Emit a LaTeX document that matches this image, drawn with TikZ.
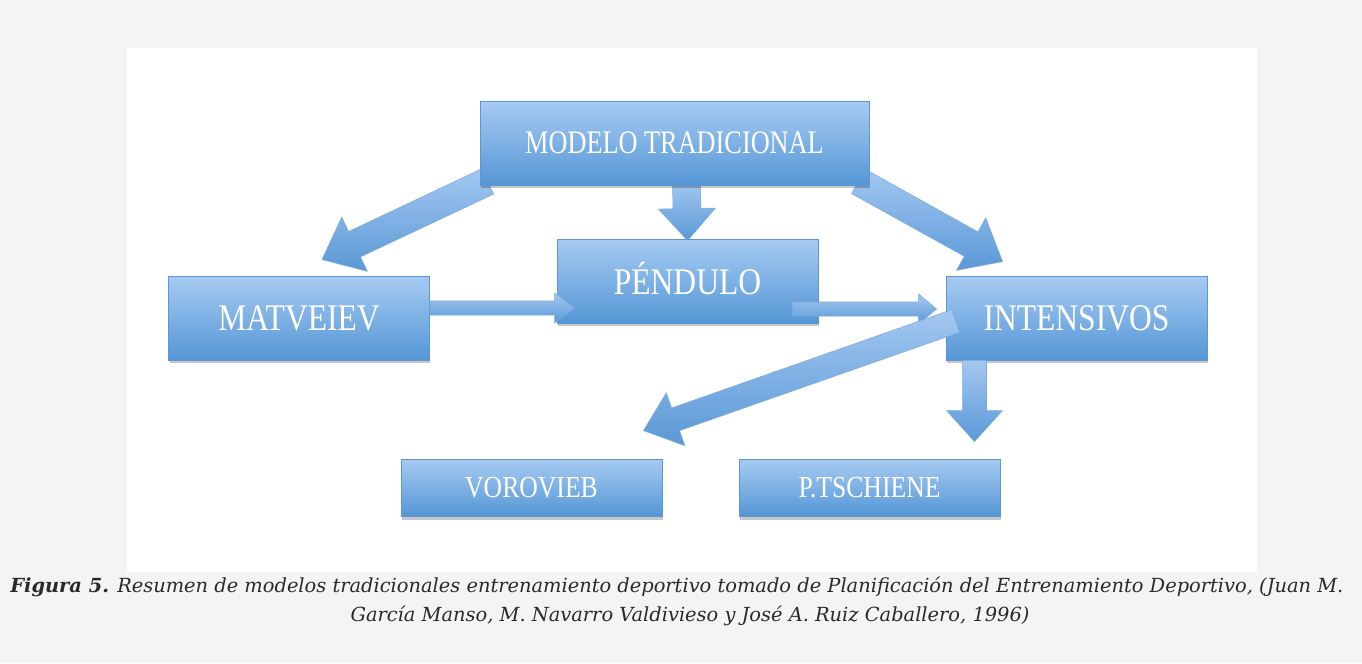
\documentclass[tikz,border=0pt]{standalone}
\usepackage{fontspec}
\usetikzlibrary{calc,shadows,backgrounds}
\newfontfamily\boxfont[FakeStretch=0.8]{Liberation Serif}
\newfontfamily\boxfontw[FakeStretch=0.84]{Liberation Serif}
\newfontfamily\capfont{DejaVu Serif}
\definecolor{boxtop}{HTML}{A6CBF2}
\definecolor{boxbot}{HTML}{5596D6}
\definecolor{boxedge}{HTML}{5D97D3}
\definecolor{arrtop}{HTML}{A3C8F1}
\definecolor{arrbot}{HTML}{5A98D6}
\definecolor{pagegray}{HTML}{F4F4F4}
\definecolor{capgray}{HTML}{2A2A2A}
\tikzset{
  mbox/.style={draw=boxedge, line width=0.5pt, top color=boxtop, bottom color=boxbot,
    text=white, inner sep=0pt, minimum width=5.22cm, minimum height=1.68cm,
    drop shadow={shadow xshift=0.02cm, shadow yshift=-0.07cm, opacity=0.22, fill=black}},
  lowbox/.style={mbox, minimum height=1.14cm},
  bigtxt/.style={font=\boxfontw\fontsize{21.4}{24}\selectfont},
  smalltxt/.style={font=\boxfontw\fontsize{17.4}{20}\selectfont},
  blockarr/.style={draw=boxedge!80, line width=0.3pt, top color=arrtop, bottom color=arrbot},
  captxt/.style={font=\capfont\itshape\fontsize{11.05}{13}\selectfont, text=capgray, inner sep=0pt}
}
\newcommand{\blockarrow}[5]{%
  \coordinate (hb) at ($(#2)!#5!(#1)$);
  \shadedraw[blockarr] ($(#1)!#3!90:(#2)$) -- ($(hb)!#3!-90:(#1)$) -- ($(hb)!#4!-90:(#1)$)
    -- (#2) -- ($(hb)!#4!90:(#1)$) -- ($(hb)!#3!90:(#1)$) -- ($(#1)!#3!-90:(#2)$) -- cycle;
}
\begin{document}
\begin{tikzpicture}[x=0.02cm,y=-0.02cm]
\useasboundingbox (0,0) rectangle (1362,663);

\node[mbox, minimum width=7.78cm, font=\boxfont\fontsize{18.7}{22}\selectfont] (mt) at (674.5,143) {MODELO TRADICIONAL};
\node[mbox, bigtxt] (pend) at (687.5,281) {\raisebox{3pt}{PÉNDULO}};
\node[mbox, bigtxt] (mat) at (299,318) {MATVEIEV};
\node[mbox, bigtxt] (inten) at (1076.5,318) {INTENSIVOS};
\node[lowbox, smalltxt] (vor) at (531.5,487.5) {VOROVIEB};
\node[lowbox, smalltxt] (pts) at (869.5,487.5) {P.TSCHIENE};

\coordinate (a1s) at ($(mt.south west)+(8,-4)$);
\coordinate (a1e) at ($(mat.north)+(23,-16)$);
\coordinate (a2s) at ($(mt.south)+(12,-4)$);
\coordinate (a2e) at ($(pend.north)+(0,2)$);
\coordinate (a3s) at ($(mt.south east)+(-11,-4)$);
\coordinate (a3e) at ($(inten.north west)+(57,-14)$);
\coordinate (a4s) at ($(mat.east)+(0,-10)$);
\coordinate (a4e) at ($(pend.west)+(18,27)$);
\coordinate (a5s) at ($(pend.east)+(-26,28)$);
\coordinate (a5e) at ($(inten.west)+(-9,-9)$);
\coordinate (a6s) at ($(inten.west)+(10,3)$);
\coordinate (a6e) at ($(vor.north)+(112,-28)$);
\coordinate (a7s) at ($(inten.south)+(-102,0)$);
\coordinate (a7e) at ($(pts.north)+(105,-17)$);

\begin{scope}[on background layer]
\fill[pagegray] (0,0) rectangle (1362,663);
\fill[white] (127,48) rectangle (1257,572);
\blockarrow{a1s}{a1e}{0.28cm}{0.6cm}{0.72cm}
\blockarrow{a2s}{a2e}{0.28cm}{0.57cm}{0.64cm}
\blockarrow{a3s}{a3e}{0.28cm}{0.6cm}{0.72cm}
\end{scope}

\blockarrow{a4s}{a4e}{0.14cm}{0.3cm}{0.4cm}
\blockarrow{a5s}{a5e}{0.14cm}{0.3cm}{0.36cm}
\blockarrow{a6s}{a6e}{0.24cm}{0.56cm}{0.68cm}
\blockarrow{a7s}{a7e}{0.24cm}{0.56cm}{0.62cm}

\node[captxt, anchor=west] (cap1) at (10,587) {{\bfseries Figura 5.} Resumen de modelos tradicionales entrenamiento deportivo tomado de Planificación del Entrenamiento Deportivo, (Juan M.};
\node[captxt] (cap2) at (690,616) {García Manso, M. Navarro Valdivieso y José A. Ruiz Caballero, 1996)};
\end{tikzpicture}
\end{document}
